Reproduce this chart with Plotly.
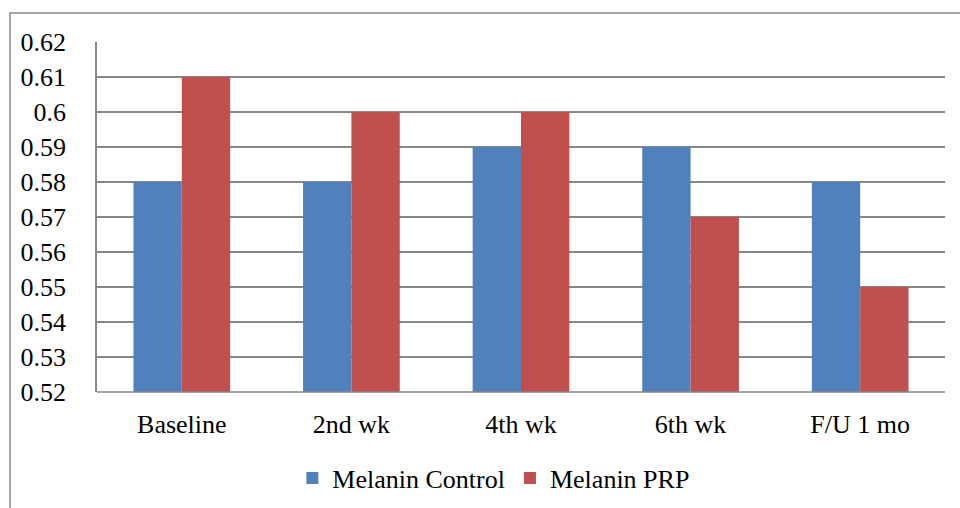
import plotly.graph_objects as go

categories = ["Baseline", "2nd wk", "4th wk", "6th wk", "F/U 1 mo"]
melanin_control = [0.58, 0.58, 0.59, 0.59, 0.58]
melanin_prp = [0.61, 0.60, 0.60, 0.57, 0.55]
y_ticks = [0.52, 0.53, 0.54, 0.55, 0.56, 0.57, 0.58, 0.59, 0.60, 0.61, 0.62]
y_tick_labels = ["0.52", "0.53", "0.54", "0.55", "0.56", "0.57", "0.58", "0.59", "0.6", "0.61", "0.62"]

font_family = "Liberation Serif"
grid_color = "#878787"

fig = go.Figure()
fig.add_trace(go.Bar(name="Melanin Control", x=categories, y=melanin_control,
                     marker=dict(color="#4F81BD", line=dict(width=0))))
fig.add_trace(go.Bar(name="Melanin PRP", x=categories, y=melanin_prp,
                     marker=dict(color="#C0504D", line=dict(width=0))))

fig.update_layout(
    width=960, height=508,
    margin=dict(l=97, r=15, t=42, b=116, autoexpand=False),
    paper_bgcolor="white", plot_bgcolor="white",
    barmode="group", bargap=0.43, bargroupgap=0,
    font=dict(family=font_family, size=26, color="black"),
    showlegend=True,
    legend=dict(orientation="h", x=0.468, xanchor="center", y=-0.246, yanchor="middle",
                font=dict(family=font_family, size=26), itemwidth=30, traceorder="normal"),
    xaxis=dict(showgrid=False, showline=False, ticks="", ticklabelstandoff=14,
               tickfont=dict(family=font_family, size=26)),
    yaxis=dict(range=[0.52, 0.62], tickvals=y_ticks, ticktext=y_tick_labels,
               showgrid=True, gridcolor=grid_color, gridwidth=1.5,
               showline=True, linecolor=grid_color, linewidth=1.5,
               ticks="", ticklabelstandoff=24, tickfont=dict(family=font_family, size=26),
               zeroline=False),
    shapes=[
        dict(type="rect", xref="paper", yref="paper", x0=-0.1026, x1=1.05, y0=-0.6, y1=1.083,
             line=dict(color="#8a8a8a", width=1.5), fillcolor="rgba(0,0,0,0)", layer="below"),
        dict(type="line", xref="paper", yref="paper", x0=0, x1=1, y0=0, y1=0,
             line=dict(color=grid_color, width=1.5)),
    ],
)

fig.write_html("out.html")
